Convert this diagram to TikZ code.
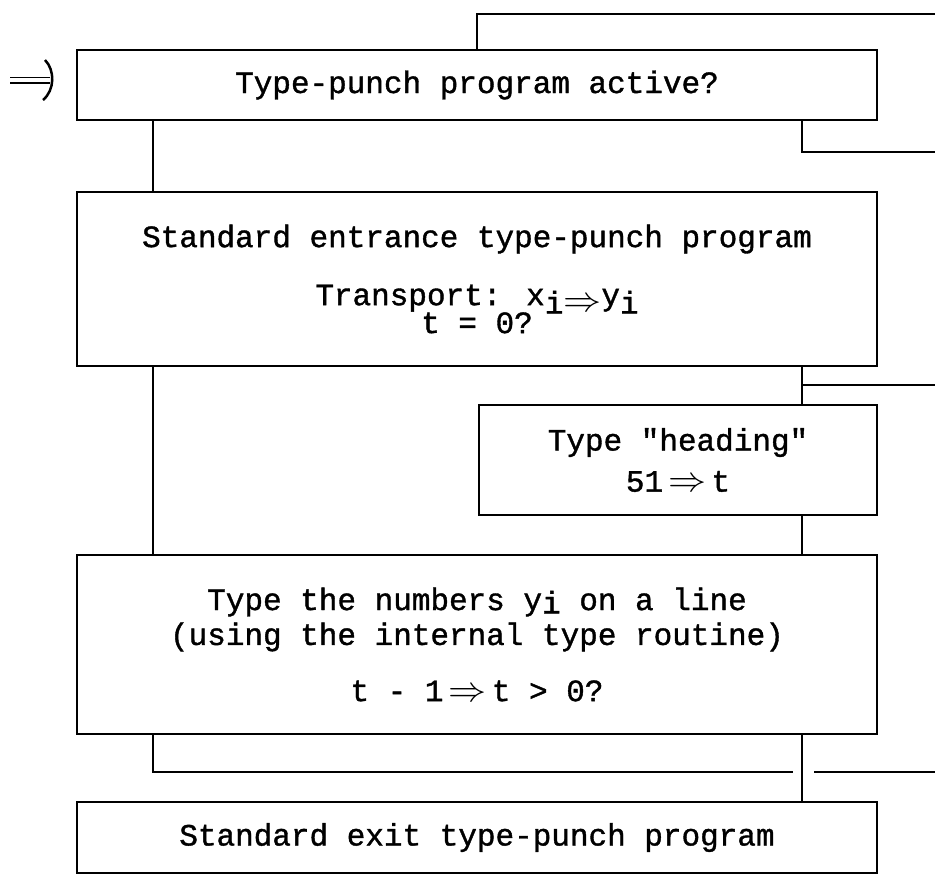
\documentclass[tikz,border=0pt]{standalone}
\usepackage{fontspec}
\newfontfamily\typer[FakeBold=1.2]{Liberation Mono}
\usetikzlibrary{calc}
\newcommand\lowi[1][-0.5ex]{\raisebox{#1}{i}}
\newcommand\imp[1][0pt]{\raisebox{#1}{\resizebox{38pt}{13pt}{$\Rightarrow$}}}

\begin{document}
\begin{tikzpicture}
  [
   x=1pt, y=-1pt, % 像素坐标, y 向下
   line width=2pt,
   box/.style={draw, rectangle, inner sep=0pt, outer sep=0pt,
               minimum width=800pt, align=center,
               font=\typer\fontsize{31}{24}\selectfont},
  ]
  \useasboundingbox (0,0) rectangle (935,876);

  % 五个方框
  \node[box, minimum height=70pt] (activ) at (477,85) {Type-punch program active?};
  \node[box, minimum height=174pt] (entr) at (477,279)
       {Standard entrance type-punch program\\[30pt]
        Transport: x\lowi\imp[-6pt]y\lowi\\[-2pt]
        t = 0?};
  \node[box, minimum width=398pt, minimum height=110pt] (head) at (678,460)
       {Type "heading"\\[13pt] 51\,\imp\,t};
  \node[box, minimum height=179pt] (numb) at (477,644.5)
       {Type the numbers y\lowi[-0.2ex]{} on a line\\[5pt]
        (using the internal type routine)\\[28pt]
        t - 1\,\imp\,t > 0?};
  \node[box, minimum height=71pt] (exit) at (477,837.5) {Standard exit type-punch program};

  % 竖线所在的列
  \coordinate (cl) at (153,0);
  \coordinate (cm) at (477,0);
  \coordinate (cr) at (802,0);

  % 入口箭头
  \coordinate (entry) at (10,80);
  \coordinate (entrytip) at (50,80);
  \draw[double, double distance=4pt, line width=1.5pt] (entry) -- (entrytip);
  \draw[line width=2.5pt]
       ([xshift=-5pt,yshift=20pt]entrytip) .. controls ([xshift=5pt,yshift=10pt]entrytip)
       and ([xshift=5pt,yshift=-10pt]entrytip) .. ([xshift=-7pt,yshift=-20pt]entrytip);

  % 出口线 (通向右边)
  \coordinate (topend) at (935,14);
  \coordinate (yesend) at (935,152);
  \coordinate (zeroend) at (935,385);
  \coordinate (loopend) at (793,772);
  \coordinate (backstart) at (814,772);
  \coordinate (backend) at (935,772);

  \draw (activ.north -| cm) |- (topend);
  \draw (activ.south -| cr) |- (yesend);
  \draw (activ.south -| cl) -- (entr.north -| cl);
  \draw (entr.south -| cl) -- (numb.north -| cl);
  \draw (entr.south -| cr) -- (head.north -| cr);
  \draw (cr |- zeroend) -- (zeroend);
  \draw (head.south -| cr) -- (numb.north -| cr);
  \draw (numb.south -| cl) |- (loopend);
  \draw[line width=1.5pt] (numb.south -| cr) -- (exit.north -| cr);
  \draw (backstart) -- (backend);
\end{tikzpicture}
\end{document}
